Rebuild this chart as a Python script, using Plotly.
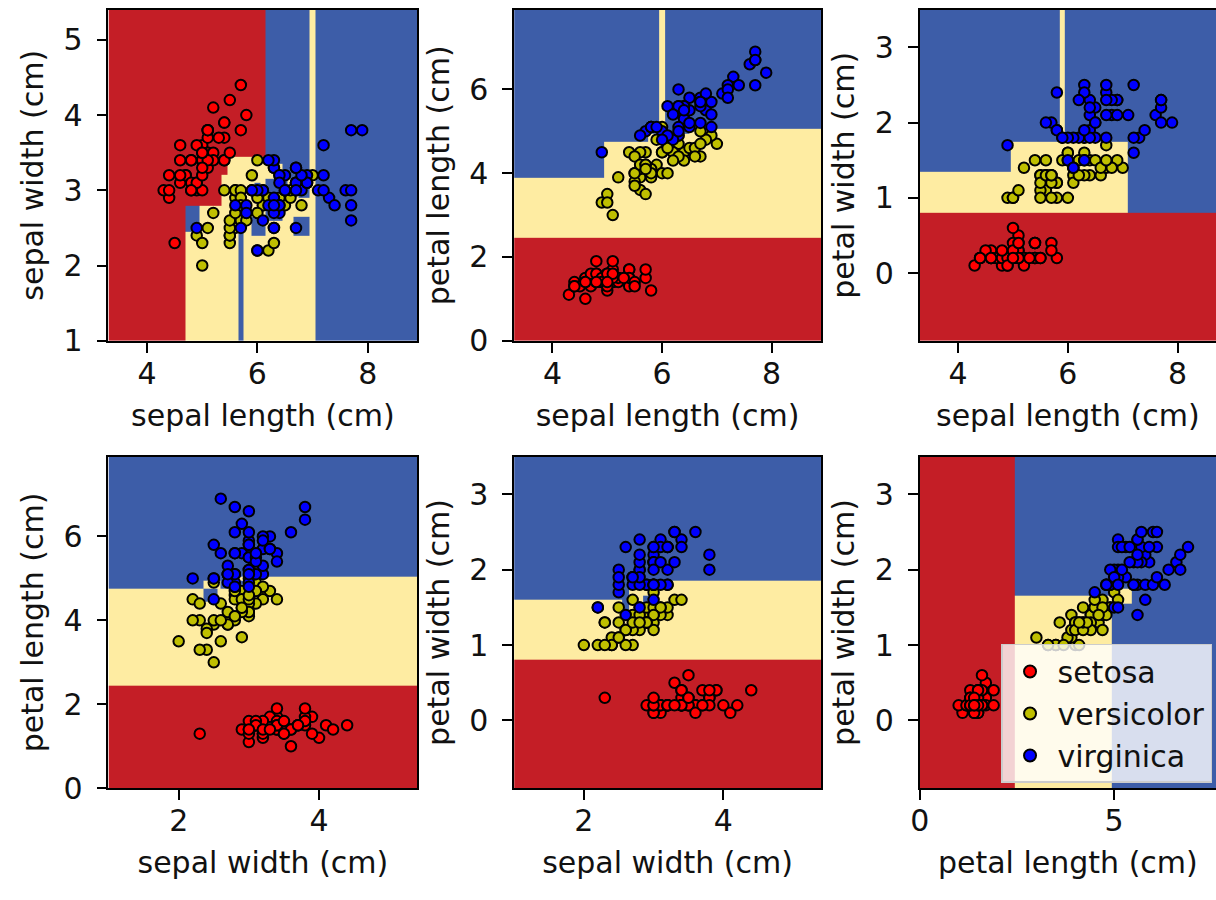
import numpy as np
import plotly.graph_objects as go

# ---------------- data (Fisher's iris, as plotted) ----------------
sepal_length = [5.1,4.9,4.7,4.6,5.0,5.4,4.6,5.0,4.4,4.9,5.4,4.8,4.8,4.3,5.8,5.7,5.4,5.1,5.7,5.1,
                5.4,5.1,4.6,5.1,4.8,5.0,5.0,5.2,5.2,4.7,4.8,5.4,5.2,5.5,4.9,5.0,5.5,4.9,4.4,5.1,
                5.0,4.5,4.4,5.0,5.1,4.8,5.1,4.6,5.3,5.0,
                7.0,6.4,6.9,5.5,6.5,5.7,6.3,4.9,6.6,5.2,5.0,5.9,6.0,6.1,5.6,6.7,5.6,5.8,6.2,5.6,
                5.9,6.1,6.3,6.1,6.4,6.6,6.8,6.7,6.0,5.7,5.5,5.5,5.8,6.0,5.4,6.0,6.7,6.3,5.6,5.5,
                5.5,6.1,5.8,5.0,5.6,5.7,5.7,6.2,5.1,5.7,
                6.3,5.8,7.1,6.3,6.5,7.6,4.9,7.3,6.7,7.2,6.5,6.4,6.8,5.7,5.8,6.4,6.5,7.7,7.7,6.0,
                6.9,5.6,7.7,6.3,6.7,7.2,6.2,6.1,6.4,7.2,7.4,7.9,6.4,6.3,6.1,7.7,6.3,6.4,6.0,6.9,
                6.7,6.9,5.8,6.8,6.7,6.7,6.3,6.5,6.2,5.9]
sepal_width = [3.5,3.0,3.2,3.1,3.6,3.9,3.4,3.4,2.9,3.1,3.7,3.4,3.0,3.0,4.0,4.4,3.9,3.5,3.8,3.8,
               3.4,3.7,3.6,3.3,3.4,3.0,3.4,3.5,3.4,3.2,3.1,3.4,4.1,4.2,3.1,3.2,3.5,3.6,3.0,3.4,
               3.5,2.3,3.2,3.5,3.8,3.0,3.8,3.2,3.7,3.3,
               3.2,3.2,3.1,2.3,2.8,2.8,3.3,2.4,2.9,2.7,2.0,3.0,2.2,2.9,2.9,3.1,3.0,2.7,2.2,2.5,
               3.2,2.8,2.5,2.8,2.9,3.0,2.8,3.0,2.9,2.6,2.4,2.4,2.7,2.7,3.0,3.4,3.1,2.3,3.0,2.5,
               2.6,3.0,2.6,2.3,2.7,3.0,2.9,2.9,2.5,2.8,
               3.3,2.7,3.0,2.9,3.0,3.0,2.5,2.9,2.5,3.6,3.2,2.7,3.0,2.5,2.8,3.2,3.0,3.8,2.6,2.2,
               3.2,2.8,2.8,2.7,3.3,3.2,2.8,3.0,2.8,3.0,2.8,3.8,2.8,2.8,2.6,3.0,3.4,3.1,3.0,3.1,
               3.1,3.1,2.7,3.2,3.3,3.0,2.5,3.0,3.4,3.0]
petal_length = [1.4,1.4,1.3,1.5,1.4,1.7,1.4,1.5,1.4,1.5,1.5,1.6,1.4,1.1,1.2,1.5,1.3,1.4,1.7,1.5,
                1.7,1.5,1.0,1.7,1.9,1.6,1.6,1.5,1.4,1.6,1.6,1.5,1.5,1.4,1.5,1.2,1.3,1.4,1.3,1.5,
                1.3,1.3,1.3,1.6,1.9,1.4,1.6,1.4,1.5,1.4,
                4.7,4.5,4.9,4.0,4.6,4.5,4.7,3.3,4.6,3.9,3.5,4.2,4.0,4.7,3.6,4.4,4.5,4.1,4.5,3.9,
                4.8,4.0,4.9,4.7,4.3,4.4,4.8,5.0,4.5,3.5,3.8,3.7,3.9,5.1,4.5,4.5,4.7,4.4,4.1,4.0,
                4.4,4.6,4.0,3.3,4.2,4.2,4.2,4.3,3.0,4.1,
                6.0,5.1,5.9,5.6,5.8,6.6,4.5,6.3,5.8,6.1,5.1,5.3,5.5,5.0,5.1,5.3,5.5,6.7,6.9,5.0,
                5.7,4.9,6.7,4.9,5.7,6.0,4.8,4.9,5.6,5.8,6.1,6.4,5.6,5.1,5.6,6.1,5.6,5.5,4.8,5.4,
                5.6,5.1,5.1,5.9,5.7,5.2,5.0,5.2,5.4,5.1]
petal_width = [0.2,0.2,0.2,0.2,0.2,0.4,0.3,0.2,0.2,0.1,0.2,0.2,0.1,0.1,0.2,0.4,0.4,0.3,0.3,0.3,
               0.2,0.4,0.2,0.5,0.2,0.2,0.4,0.2,0.2,0.2,0.2,0.4,0.1,0.2,0.2,0.2,0.2,0.1,0.2,0.2,
               0.3,0.3,0.2,0.6,0.4,0.3,0.2,0.2,0.2,0.2,
               1.4,1.5,1.5,1.3,1.5,1.3,1.6,1.0,1.3,1.4,1.0,1.5,1.0,1.4,1.3,1.4,1.5,1.0,1.5,1.1,
               1.8,1.3,1.5,1.2,1.3,1.4,1.4,1.7,1.5,1.0,1.1,1.0,1.2,1.6,1.5,1.6,1.5,1.3,1.3,1.3,
               1.2,1.4,1.2,1.0,1.3,1.2,1.3,1.3,1.1,1.3,
               2.5,1.9,2.1,1.8,2.2,2.1,1.7,1.8,1.8,2.5,2.0,1.9,2.1,2.0,2.4,2.3,1.8,2.2,2.3,1.5,
               2.3,2.0,2.0,1.8,2.1,1.8,1.8,1.8,2.1,1.6,1.9,2.0,2.2,1.5,1.4,2.3,2.4,1.8,1.8,2.1,
               2.4,2.3,1.9,2.3,2.5,2.3,1.9,2.0,2.3,1.8]
species = [0] * 50 + [1] * 50 + [2] * 50

feature_names = ["sepal length (cm)", "sepal width (cm)", "petal length (cm)", "petal width (cm)"]
class_names = ["setosa", "versicolor", "virginica"]
pairs = [[0, 1], [0, 2], [0, 3], [1, 2], [1, 3], [2, 3]]
x_ticks = [[4, 6, 8], [4, 6, 8], [4, 6, 8], [2, 4], [2, 4], [0, 5]]
y_ticks = [[1, 2, 3, 4, 5], [0, 2, 4, 6], [0, 1, 2, 3], [0, 2, 4, 6], [0, 1, 2, 3], [0, 1, 2, 3]]

# ---------------- styles ----------------
region_colors = ["#c41e26", "#feeca2", "#3d5da8"]
point_colors = ["#ff0000", "#bfbf00", "#0000ff"]
FONT = "DejaVu Sans"
FS = 30
TXT = "#111111"
W, H = 1216, 900
col_px = [(99.3, 410.7), (508.3, 817.7), (917.3, 1227.0)]
row_px = [(10.0, 347.7), (466.0, 804.3)]

X_all = np.column_stack([sepal_length, sepal_width, petal_length, petal_width]).astype(float)
y_all = np.array(species)


# ---------------- CART decision tree (gini, fully grown) ----------------
def fit_tree(X, y, idx, order):
    counts = np.bincount(y[idx], minlength=3).astype(float)
    n = len(idx)
    if np.count_nonzero(counts) <= 1 or n < 2:
        return ("leaf", int(np.argmax(counts)))
    best, best_proxy = None, -np.inf
    for f in order:
        xs = X[idx, f]
        o = np.argsort(xs, kind="stable")
        xs_s = xs[o]
        ys = y[idx][o]
        if xs_s[-1] <= xs_s[0] + 1e-7:
            continue
        left = np.zeros(3)
        for p in range(1, n):
            left[ys[p - 1]] += 1
            if xs_s[p] <= xs_s[p - 1] + 1e-7:
                continue
            nl, nr = float(p), float(n - p)
            right = counts - left
            gl = 1.0 - (left[0] * left[0] + left[1] * left[1] + left[2] * left[2]) / (nl * nl)
            gr = 1.0 - (right[0] * right[0] + right[1] * right[1] + right[2] * right[2]) / (nr * nr)
            proxy = -nr * gr - nl * gl
            if proxy > best_proxy:
                best_proxy = proxy
                best = (f, xs_s[p - 1] / 2.0 + xs_s[p] / 2.0)
    if best is None:
        return ("leaf", int(np.argmax(counts)))
    f, thr = best
    mask = X[idx, f] <= thr
    return ("node", f, thr, fit_tree(X, y, idx[mask], order), fit_tree(X, y, idx[~mask], order))


def predict(tree, pt):
    while tree[0] == "node":
        tree = tree[3] if pt[tree[1]] <= tree[2] else tree[4]
    return tree[1]


def thresholds(tree, f, acc):
    if tree[0] == "node":
        if tree[1] == f:
            acc.add(tree[2])
        thresholds(tree[3], f, acc)
        thresholds(tree[4], f, acc)
    return acc


fig = go.Figure()
layout = {}
feature_orders = [[1, 0], [0, 1], [0, 1], [0, 1], [0, 1], [0, 1]]

for k, pair in enumerate(pairs):
    X = X_all[:, pair]
    tree = fit_tree(X, y_all, np.arange(len(y_all)), feature_orders[k])
    x_lo, x_hi = X[:, 0].min() - 1.0, X[:, 0].max() + 1.0
    y_lo, y_hi = X[:, 1].min() - 1.0, X[:, 1].max() + 1.0
    xe = [x_lo] + sorted(t for t in thresholds(tree, 0, set()) if x_lo < t < x_hi) + [x_hi]
    ye = [y_lo] + sorted(t for t in thresholds(tree, 1, set()) if y_lo < t < y_hi) + [y_hi]
    xc = [(a + b) / 2 for a, b in zip(xe[:-1], xe[1:])]
    yc = [(a + b) / 2 for a, b in zip(ye[:-1], ye[1:])]
    z = [[predict(tree, (cx, cy)) for cx in xc] for cy in yc]

    sfx = "" if k == 0 else str(k + 1)
    xa, ya = "x" + sfx, "y" + sfx
    fig.add_trace(go.Heatmap(x=xe, y=ye, z=z, zmin=0, zmax=2, showscale=False,
                             colorscale=[[0, region_colors[0]], [0.5, region_colors[1]], [1, region_colors[2]]],
                             hoverinfo="skip", xaxis=xa, yaxis=ya))
    for c in range(3):
        sel = y_all == c
        fig.add_trace(go.Scatter(x=X[sel, 0], y=X[sel, 1], mode="markers", name=class_names[c],
                                 showlegend=(k == 5), xaxis=xa, yaxis=ya,
                                 marker=dict(size=10.5, color=point_colors[c],
                                             line=dict(color="black", width=2))))

    r, cidx = divmod(k, 3)
    px0, px1 = col_px[cidx]
    py0, py1 = row_px[r]
    dom_x1 = min(px1, W)
    vis_hi = x_lo + (x_hi - x_lo) * (dom_x1 - px0) / (px1 - px0)
    axis_common = dict(showline=True, linecolor="black", linewidth=1.7, ticks="outside", ticklen=10,
                       tickwidth=1.7, tickcolor="black", showgrid=False, zeroline=False,
                       tickfont=dict(family=FONT, size=FS, color=TXT))
    layout["xaxis" + sfx] = dict(axis_common, domain=[px0 / W, dom_x1 / W], anchor=ya,
                                 range=[x_lo, vis_hi], tickvals=x_ticks[k], mirror=True,
                                 ticklabelstandoff=-5,
                                 title=dict(text=feature_names[pair[0]], standoff=15,
                                            font=dict(family=FONT, size=FS, color=TXT)))
    layout["yaxis" + sfx] = dict(axis_common, domain=[1 - py1 / H, 1 - py0 / H], anchor=xa,
                                 range=[y_lo, y_hi], tickvals=y_ticks[k],
                                 mirror=(cidx != 2), ticklabelstandoff=8,
                                 title=dict(text=feature_names[pair[1]], standoff=11,
                                            font=dict(family=FONT, size=FS, color=TXT)))

fig.update_layout(**layout)
fig.update_layout(
    width=W, height=H, margin=dict(l=0, r=0, t=0, b=0),
    paper_bgcolor="white", plot_bgcolor="white",
    font=dict(family=FONT, size=FS, color=TXT),
    legend=dict(x=1212 / W, y=1 - 728 / H, xanchor="right", yanchor="middle",
                bgcolor="rgba(255,255,255,0.8)", bordercolor="#cccccc", borderwidth=1.5,
                itemwidth=45, font=dict(family=FONT, size=FS, color=TXT), itemsizing="constant"),
)
post = ("document.documentElement.style.margin='0';document.body.style.margin='0';"
        "document.documentElement.style.overflow='hidden';document.body.style.overflow='hidden';"
        "var d=document.getElementById('{plot_id}');d.style.position='fixed';"
        "d.style.left='0px';d.style.top='0px';")
fig.write_html("out.html", config={"displayModeBar": False}, post_script=post)
